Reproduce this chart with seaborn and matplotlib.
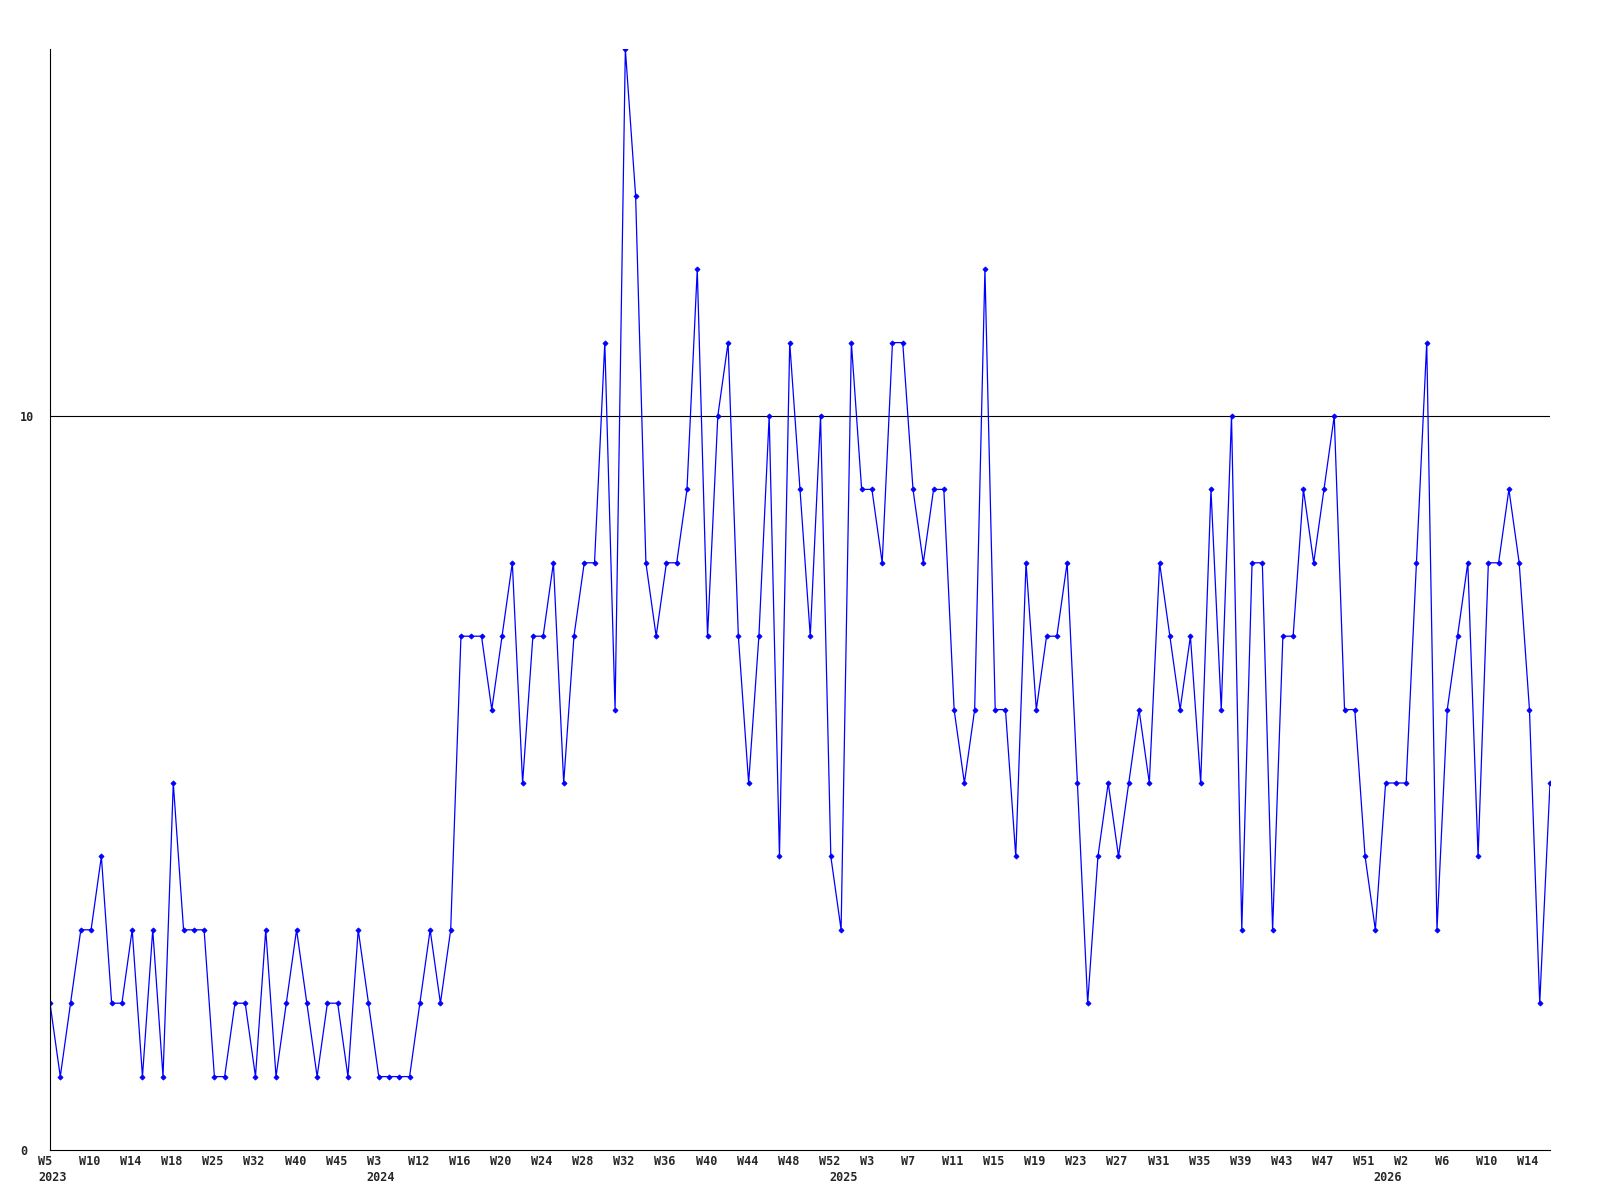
import pandas as pd
import seaborn as sns
import matplotlib.pyplot as plt
from matplotlib.transforms import ScaledTranslation

# weekly counts, one per week that has data
counts = [2, 1, 2, 3, 3, 4, 2, 2, 3, 1, 3, 1, 5, 3, 3, 3, 1, 1, 2, 2,
          1, 3, 1, 2, 3, 2, 1, 2, 2, 1, 3, 2, 1, 1, 1, 1, 2, 3, 2, 3,
          7, 7, 7, 6, 7, 8, 5, 7, 7, 8, 5, 7, 8, 8, 11, 6, 15, 13, 8, 7,
          8, 8, 9, 12, 7, 10, 11, 7, 5, 7, 10, 4, 11, 9, 7, 10, 4, 3, 11, 9,
          9, 8, 11, 11, 9, 8, 9, 9, 6, 5, 6, 12, 6, 6, 4, 8, 6, 7, 7, 8,
          5, 2, 4, 5, 4, 5, 6, 5, 8, 7, 6, 7, 5, 9, 6, 10, 3, 8, 8, 3,
          7, 7, 9, 8, 9, 10, 6, 6, 4, 3, 5, 5, 5, 8, 11, 3, 6, 7, 8, 4,
          8, 8, 9, 8, 6, 2, 5]

# one label every 4th point
week_labels = ["W5", "W10", "W14", "W18", "W25", "W32", "W40", "W45",
               "W3", "W12", "W16", "W20", "W24", "W28", "W32", "W36", "W40", "W44", "W48", "W52",
               "W3", "W7", "W11", "W15", "W19", "W23", "W27", "W31", "W35", "W39", "W43", "W47", "W51",
               "W2", "W6", "W10", "W14"]
year_labels = ["2023", "2024", "2025", "2026"]
year_index = [0, 32, 77, 130]

df = pd.DataFrame({"idx": range(len(counts)), "count": counts})

sns.set_style("white")
plt.rcParams["font.family"] = ["DejaVu Sans Mono"]
plt.rcParams["font.weight"] = "bold"
fs = 8.5

fig = plt.figure(figsize=(16, 12), dpi=100)
ax = fig.add_axes([50 / 1600, 50 / 1200, 1500 / 1600, 1101 / 1200])

sns.lineplot(data=df, x="idx", y="count", color="#0000ff", lw=0.9,
             marker="D", markersize=2.6, mew=0.6, mec="#0000ff", mfc="#0000ff", ax=ax)

ax.axhline(10, color="black", lw=0.8, zorder=1)
ax.set_xlim(0, len(counts) - 1)
ax.set_ylim(0, 15)

ax.set_yticks([0, 10])
ax.set_yticklabels(["0", "10"], fontsize=fs, fontweight="bold")
ax.tick_params(axis="y", length=0, pad=21.6)
for lab in ax.get_yticklabels():
    lab.set_ha("left")

ax.set_xticks(range(0, len(counts), 4))
ax.set_xticklabels(week_labels, fontsize=fs, fontweight="bold")
ax.tick_params(axis="x", length=0, pad=3.5)
shift = ScaledTranslation(-12 / 100, 0, fig.dpi_scale_trans)
for lab in ax.get_xticklabels():
    lab.set_ha("left")
    lab.set_transform(lab.get_transform() + shift)

for yl, i in zip(year_labels, year_index):
    ax.annotate(yl, xy=(i, 0), xycoords=("data", "axes fraction"),
                xytext=(-8.6, -15), textcoords="offset points",
                ha="left", va="top", fontsize=fs, fontweight="bold")

ax.set_xlabel("")
ax.set_ylabel("")
sns.despine(ax=ax)
for s in ["left", "bottom"]:
    ax.spines[s].set_color("black")
    ax.spines[s].set_linewidth(0.8)

fig.savefig("out.png", dpi=100)
